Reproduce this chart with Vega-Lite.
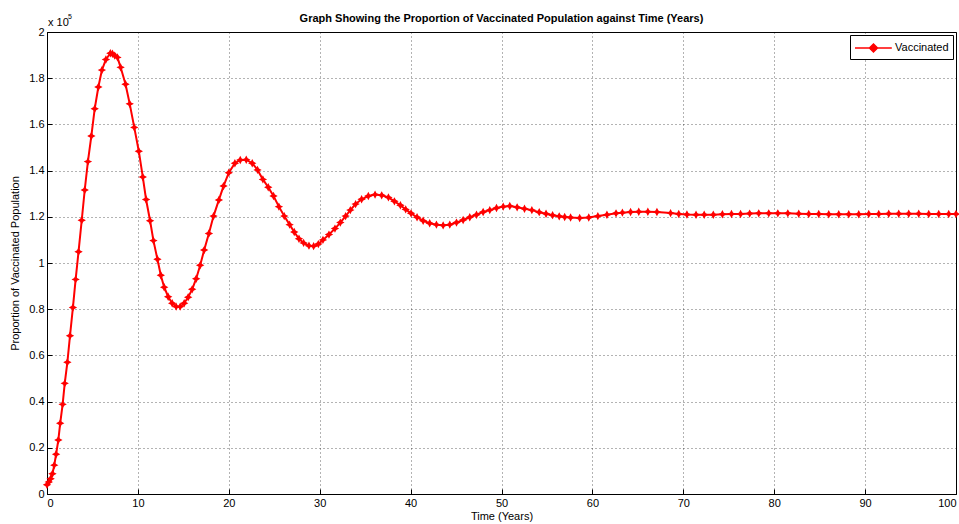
{
  "$schema": "https://vega.github.io/schema/vega-lite/v6.json",
  "width": 909,
  "height": 462,
  "autosize": "none",
  "padding": {"left": 47, "top": 32, "right": 3, "bottom": 30},
  "background": "#ffffff",
  "config": {
    "font": "Liberation Sans",
    "view": {"stroke": "#000000", "strokeWidth": 1},
    "axis": {
      "domainColor": "#000000",
      "tickColor": "#000000",
      "labelColor": "#000000",
      "titleColor": "#000000",
      "labelFont": "Liberation Sans",
      "titleFont": "Liberation Sans",
      "labelFontSize": 11,
      "titleFontSize": 11,
      "titleFontWeight": "normal",
      "gridColor": "#000000",
      "gridOpacity": 0.6,
      "gridDash": [1, 3],
      "tickSize": -5,
      "labelPadding": 8
    },
    "legend": {
      "orient": "top-right",
      "offset": 3,
      "strokeColor": "#000000",
      "fillColor": "#ffffff",
      "padding": 4,
      "labelFont": "Liberation Sans",
      "labelFontSize": 11,
      "labelColor": "#000000"
    }
  },
  "title": {
    "text": "Graph Showing the Proportion of Vaccinated Population against Time (Years)",
    "font": "Liberation Sans",
    "fontSize": 11,
    "fontWeight": "bold",
    "color": "#000000",
    "anchor": "middle",
    "frame": "group",
    "offset": -11
  },
  "layer": [
    {
      "data": {
        "values": [
          {"t": 0.0, "v": 0.040, "series": "Vaccinated"},
          {"t": 0.2, "v": 0.052, "series": "Vaccinated"},
          {"t": 0.4, "v": 0.066, "series": "Vaccinated"},
          {"t": 0.6, "v": 0.088, "series": "Vaccinated"},
          {"t": 0.8, "v": 0.125, "series": "Vaccinated"},
          {"t": 1.0, "v": 0.172, "series": "Vaccinated"},
          {"t": 1.25, "v": 0.234, "series": "Vaccinated"},
          {"t": 1.45, "v": 0.306, "series": "Vaccinated"},
          {"t": 1.72, "v": 0.388, "series": "Vaccinated"},
          {"t": 1.95, "v": 0.479, "series": "Vaccinated"},
          {"t": 2.24, "v": 0.570, "series": "Vaccinated"},
          {"t": 2.53, "v": 0.685, "series": "Vaccinated"},
          {"t": 2.85, "v": 0.807, "series": "Vaccinated"},
          {"t": 3.15, "v": 0.929, "series": "Vaccinated"},
          {"t": 3.47, "v": 1.049, "series": "Vaccinated"},
          {"t": 3.82, "v": 1.185, "series": "Vaccinated"},
          {"t": 4.15, "v": 1.316, "series": "Vaccinated"},
          {"t": 4.5, "v": 1.439, "series": "Vaccinated"},
          {"t": 4.88, "v": 1.550, "series": "Vaccinated"},
          {"t": 5.25, "v": 1.668, "series": "Vaccinated"},
          {"t": 5.65, "v": 1.762, "series": "Vaccinated"},
          {"t": 6.04, "v": 1.835, "series": "Vaccinated"},
          {"t": 6.48, "v": 1.881, "series": "Vaccinated"},
          {"t": 6.97, "v": 1.908, "series": "Vaccinated"},
          {"t": 7.2, "v": 1.906, "series": "Vaccinated"},
          {"t": 7.45, "v": 1.898, "series": "Vaccinated"},
          {"t": 7.75, "v": 1.890, "series": "Vaccinated"},
          {"t": 8.1, "v": 1.847, "series": "Vaccinated"},
          {"t": 8.64, "v": 1.774, "series": "Vaccinated"},
          {"t": 9.1, "v": 1.689, "series": "Vaccinated"},
          {"t": 9.6, "v": 1.587, "series": "Vaccinated"},
          {"t": 10.1, "v": 1.484, "series": "Vaccinated"},
          {"t": 10.54, "v": 1.372, "series": "Vaccinated"},
          {"t": 10.9, "v": 1.275, "series": "Vaccinated"},
          {"t": 11.34, "v": 1.183, "series": "Vaccinated"},
          {"t": 11.71, "v": 1.097, "series": "Vaccinated"},
          {"t": 12.15, "v": 1.016, "series": "Vaccinated"},
          {"t": 12.52, "v": 0.947, "series": "Vaccinated"},
          {"t": 12.89, "v": 0.895, "series": "Vaccinated"},
          {"t": 13.33, "v": 0.854, "series": "Vaccinated"},
          {"t": 13.77, "v": 0.826, "series": "Vaccinated"},
          {"t": 14.21, "v": 0.811, "series": "Vaccinated"},
          {"t": 14.65, "v": 0.811, "series": "Vaccinated"},
          {"t": 15.09, "v": 0.826, "series": "Vaccinated"},
          {"t": 15.53, "v": 0.852, "series": "Vaccinated"},
          {"t": 15.97, "v": 0.886, "series": "Vaccinated"},
          {"t": 16.41, "v": 0.932, "series": "Vaccinated"},
          {"t": 16.85, "v": 0.990, "series": "Vaccinated"},
          {"t": 17.29, "v": 1.056, "series": "Vaccinated"},
          {"t": 17.81, "v": 1.128, "series": "Vaccinated"},
          {"t": 18.32, "v": 1.203, "series": "Vaccinated"},
          {"t": 18.91, "v": 1.273, "series": "Vaccinated"},
          {"t": 19.42, "v": 1.333, "series": "Vaccinated"},
          {"t": 20.0, "v": 1.391, "series": "Vaccinated"},
          {"t": 20.67, "v": 1.432, "series": "Vaccinated"},
          {"t": 21.26, "v": 1.446, "series": "Vaccinated"},
          {"t": 21.92, "v": 1.447, "series": "Vaccinated"},
          {"t": 22.58, "v": 1.432, "series": "Vaccinated"},
          {"t": 23.16, "v": 1.403, "series": "Vaccinated"},
          {"t": 23.75, "v": 1.362, "series": "Vaccinated"},
          {"t": 24.34, "v": 1.328, "series": "Vaccinated"},
          {"t": 24.92, "v": 1.290, "series": "Vaccinated"},
          {"t": 25.51, "v": 1.244, "series": "Vaccinated"},
          {"t": 26.1, "v": 1.203, "series": "Vaccinated"},
          {"t": 26.69, "v": 1.166, "series": "Vaccinated"},
          {"t": 27.2, "v": 1.134, "series": "Vaccinated"},
          {"t": 27.72, "v": 1.105, "series": "Vaccinated"},
          {"t": 28.23, "v": 1.087, "series": "Vaccinated"},
          {"t": 28.82, "v": 1.075, "series": "Vaccinated"},
          {"t": 29.33, "v": 1.073, "series": "Vaccinated"},
          {"t": 29.85, "v": 1.082, "series": "Vaccinated"},
          {"t": 30.36, "v": 1.100, "series": "Vaccinated"},
          {"t": 31.02, "v": 1.123, "series": "Vaccinated"},
          {"t": 31.68, "v": 1.149, "series": "Vaccinated"},
          {"t": 32.27, "v": 1.175, "series": "Vaccinated"},
          {"t": 32.85, "v": 1.203, "series": "Vaccinated"},
          {"t": 33.37, "v": 1.229, "series": "Vaccinated"},
          {"t": 33.95, "v": 1.255, "series": "Vaccinated"},
          {"t": 34.61, "v": 1.276, "series": "Vaccinated"},
          {"t": 35.35, "v": 1.290, "series": "Vaccinated"},
          {"t": 36.09, "v": 1.296, "series": "Vaccinated"},
          {"t": 36.82, "v": 1.293, "series": "Vaccinated"},
          {"t": 37.56, "v": 1.284, "series": "Vaccinated"},
          {"t": 38.22, "v": 1.267, "series": "Vaccinated"},
          {"t": 38.88, "v": 1.250, "series": "Vaccinated"},
          {"t": 39.46, "v": 1.232, "series": "Vaccinated"},
          {"t": 40.05, "v": 1.215, "series": "Vaccinated"},
          {"t": 40.71, "v": 1.198, "series": "Vaccinated"},
          {"t": 41.38, "v": 1.183, "series": "Vaccinated"},
          {"t": 42.1, "v": 1.172, "series": "Vaccinated"},
          {"t": 42.84, "v": 1.166, "series": "Vaccinated"},
          {"t": 43.58, "v": 1.163, "series": "Vaccinated"},
          {"t": 44.31, "v": 1.166, "series": "Vaccinated"},
          {"t": 45.05, "v": 1.175, "series": "Vaccinated"},
          {"t": 45.78, "v": 1.186, "series": "Vaccinated"},
          {"t": 46.51, "v": 1.198, "series": "Vaccinated"},
          {"t": 47.25, "v": 1.209, "series": "Vaccinated"},
          {"t": 47.98, "v": 1.221, "series": "Vaccinated"},
          {"t": 48.71, "v": 1.229, "series": "Vaccinated"},
          {"t": 49.45, "v": 1.238, "series": "Vaccinated"},
          {"t": 50.19, "v": 1.244, "series": "Vaccinated"},
          {"t": 50.91, "v": 1.247, "series": "Vaccinated"},
          {"t": 51.72, "v": 1.241, "series": "Vaccinated"},
          {"t": 52.53, "v": 1.235, "series": "Vaccinated"},
          {"t": 53.34, "v": 1.229, "series": "Vaccinated"},
          {"t": 54.15, "v": 1.220, "series": "Vaccinated"},
          {"t": 54.9, "v": 1.213, "series": "Vaccinated"},
          {"t": 55.62, "v": 1.207, "series": "Vaccinated"},
          {"t": 56.35, "v": 1.202, "series": "Vaccinated"},
          {"t": 56.95, "v": 1.199, "series": "Vaccinated"},
          {"t": 57.6, "v": 1.197, "series": "Vaccinated"},
          {"t": 58.6, "v": 1.195, "series": "Vaccinated"},
          {"t": 59.6, "v": 1.197, "series": "Vaccinated"},
          {"t": 60.6, "v": 1.203, "series": "Vaccinated"},
          {"t": 61.6, "v": 1.209, "series": "Vaccinated"},
          {"t": 62.6, "v": 1.215, "series": "Vaccinated"},
          {"t": 63.3, "v": 1.218, "series": "Vaccinated"},
          {"t": 64.2, "v": 1.221, "series": "Vaccinated"},
          {"t": 65.1, "v": 1.222, "series": "Vaccinated"},
          {"t": 66.1, "v": 1.222, "series": "Vaccinated"},
          {"t": 67.1, "v": 1.221, "series": "Vaccinated"},
          {"t": 68.6, "v": 1.216, "series": "Vaccinated"},
          {"t": 69.5, "v": 1.212, "series": "Vaccinated"},
          {"t": 70.4, "v": 1.210, "series": "Vaccinated"},
          {"t": 71.4, "v": 1.209, "series": "Vaccinated"},
          {"t": 72.3, "v": 1.209, "series": "Vaccinated"},
          {"t": 73.3, "v": 1.209, "series": "Vaccinated"},
          {"t": 74.3, "v": 1.211, "series": "Vaccinated"},
          {"t": 75.3, "v": 1.212, "series": "Vaccinated"},
          {"t": 76.3, "v": 1.212, "series": "Vaccinated"},
          {"t": 77.3, "v": 1.214, "series": "Vaccinated"},
          {"t": 78.3, "v": 1.215, "series": "Vaccinated"},
          {"t": 79.4, "v": 1.215, "series": "Vaccinated"},
          {"t": 80.4, "v": 1.215, "series": "Vaccinated"},
          {"t": 81.5, "v": 1.215, "series": "Vaccinated"},
          {"t": 82.7, "v": 1.213, "series": "Vaccinated"},
          {"t": 83.8, "v": 1.212, "series": "Vaccinated"},
          {"t": 84.9, "v": 1.212, "series": "Vaccinated"},
          {"t": 86.0, "v": 1.211, "series": "Vaccinated"},
          {"t": 87.1, "v": 1.211, "series": "Vaccinated"},
          {"t": 88.2, "v": 1.211, "series": "Vaccinated"},
          {"t": 89.3, "v": 1.211, "series": "Vaccinated"},
          {"t": 90.4, "v": 1.212, "series": "Vaccinated"},
          {"t": 91.5, "v": 1.212, "series": "Vaccinated"},
          {"t": 92.6, "v": 1.213, "series": "Vaccinated"},
          {"t": 93.7, "v": 1.213, "series": "Vaccinated"},
          {"t": 94.8, "v": 1.213, "series": "Vaccinated"},
          {"t": 95.9, "v": 1.213, "series": "Vaccinated"},
          {"t": 97.0, "v": 1.212, "series": "Vaccinated"},
          {"t": 98.1, "v": 1.212, "series": "Vaccinated"},
          {"t": 99.2, "v": 1.212, "series": "Vaccinated"},
          {"t": 100.0, "v": 1.212, "series": "Vaccinated"}
        ]
      },
      "mark": {
        "type": "line",
        "strokeWidth": 2,
        "point": {
          "filled": true,
          "shape": "M0,-1L0.35,-0.35L1,0L0.35,0.35L0,1L-0.35,0.35L-1,0L-0.35,-0.35Z",
          "size": 70
        }
      },
      "encoding": {
        "x": {
          "field": "t",
          "type": "quantitative",
          "scale": {"domain": [0, 100], "nice": false},
          "axis": {
            "values": [0, 10, 20, 30, 40, 50, 60, 70, 80, 90, 100],
            "title": "Time (Years)",
            "titlePadding": 2,
            "grid": true
          }
        },
        "y": {
          "field": "v",
          "type": "quantitative",
          "scale": {"domain": [0, 2], "nice": false},
          "axis": {
            "values": [0, 0.2, 0.4, 0.6, 0.8, 1, 1.2, 1.4, 1.6, 1.8, 2],
            "format": "~g",
            "title": "Proportion of Vaccinated Population",
            "titlePadding": 8,
            "grid": true
          }
        },
        "color": {
          "field": "series",
          "type": "nominal",
          "scale": {"range": ["#ff0000"]},
          "legend": {
            "title": null,
            "symbolType": "M-1,0L3.6,0M1.31,-0.5L1.81,0L1.31,0.5L0.81,0Z",
            "symbolSize": 256,
            "symbolStrokeWidth": 1.5,
            "symbolFillColor": "#ff0000",
            "symbolStrokeColor": "#ff0000",
            "labelOffset": 23
          }
        }
      }
    },
    {
      "data": {"values": [{"lab": "x 10"}]},
      "mark": {"type": "text", "align": "left", "baseline": "alphabetic", "dx": 1, "dy": -6, "fontSize": 11, "color": "#000000", "font": "Liberation Sans"},
      "encoding": {
        "x": {"datum": 0, "type": "quantitative"},
        "y": {"datum": 2, "type": "quantitative"},
        "text": {"field": "lab"}
      }
    },
    {
      "data": {"values": [{"lab": "5"}]},
      "mark": {"type": "text", "align": "left", "baseline": "alphabetic", "dx": 21, "dy": -13, "fontSize": 7, "color": "#000000", "font": "Liberation Sans"},
      "encoding": {
        "x": {"datum": 0, "type": "quantitative"},
        "y": {"datum": 2, "type": "quantitative"},
        "text": {"field": "lab"}
      }
    }
  ]
}
